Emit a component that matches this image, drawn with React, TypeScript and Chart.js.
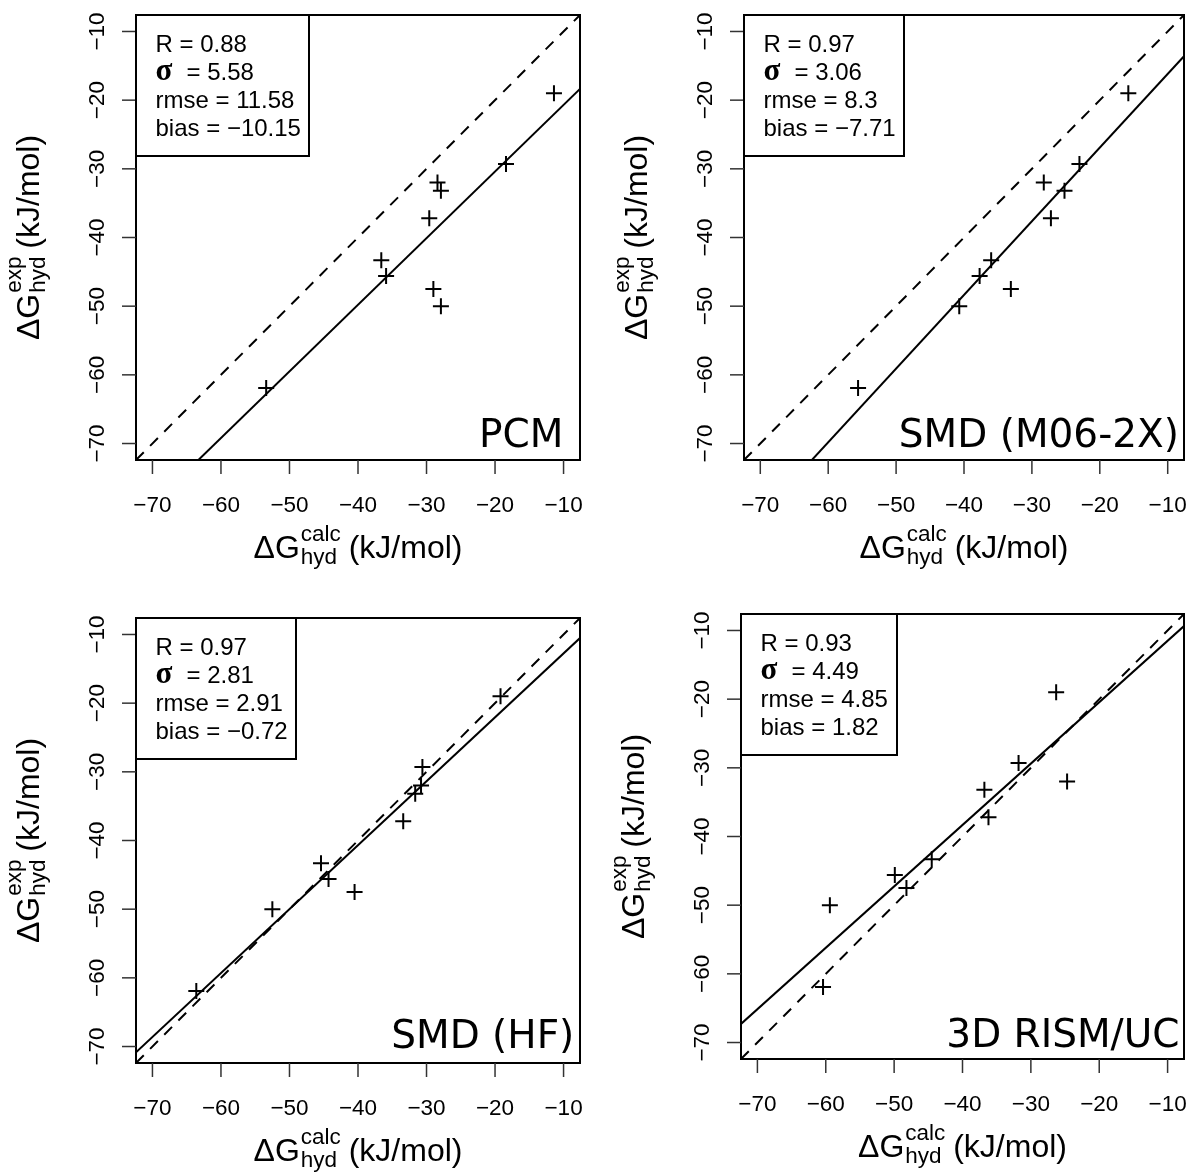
import React, { useEffect, useRef } from "react";
import { Chart, registerables } from "chart.js";

Chart.register(...registerables);

// ---------------- data ----------------
const expValues = [-19.0, -29.3, -32.0, -33.2, -37.2, -43.3, -45.6, -47.5, -50.0, -61.9];
const pcmCalc = [-11.4, -18.4, -28.4, -27.9, -29.6, -36.6, -35.9, -29.0, -27.9, -53.4];
const smdM06Calc = [-15.8, -23.0, -28.25, -25.2, -27.2, -36.0, -37.7, -33.1, -40.7, -55.6];
const smdHFCalc = [-19.2, -30.6, -30.8, -31.65, -33.4, -45.4, -44.3, -40.5, -52.5, -63.6];
const rismCalc = [-26.3, -31.8, -24.7, -36.8, -36.2, -44.5, -49.9, -48.2, -59.4, -60.4];

const methodNames = ["PCM", "SMD (M06-2X)", "SMD (HF)", "3D RISM/UC"];
const rValues = ["0.88", "0.97", "0.97", "0.93"];
const sigmaValues = ["5.58", "3.06", "2.81", "4.49"];
const rmseValues = ["11.58", "8.3", "2.91", "4.85"];
const biasValues = ["\u221210.15", "\u22127.71", "\u22120.72", "1.82"];
const fitIntercepts = [-11.0, -5.44, -3.44, -2.57];
const fitSlopes = [0.97, 1.073, 0.931, 0.894];

const tickValues = [-70, -60, -50, -40, -30, -20, -10];
const tickLabels = ["\u221270", "\u221260", "\u221250", "\u221240", "\u221230", "\u221220", "\u221210"];
const axisMin = -72.4;
const axisMax = -7.6;

// ---------------- layout (styles only) ----------------
type Layout = {
  cx: number; cy: number; cw: number; ch: number;
  left: number; top: number; right: number; bottom: number;
  boxW: number; labelRight: number; labelBase: number;
};

const layouts: Layout[] = [
  { cx: 0, cy: 0, cw: 600, ch: 590, left: 136, top: 15, right: 580, bottom: 460, boxW: 173, labelRight: 16.7, labelBase: 13.3 },
  { cx: 600, cy: 0, cw: 594, ch: 590, left: 144, top: 15, right: 588, bottom: 460, boxW: 160, labelRight: 5, labelBase: 13 },
  { cx: 0, cy: 590, cw: 600, ch: 585, left: 136, top: 28, right: 580, bottom: 473, boxW: 160, labelRight: 5.7, labelBase: 15.5 },
  { cx: 600, cy: 590, cw: 594, ch: 585, left: 141, top: 24, right: 585, bottom: 469, boxW: 156, labelRight: 4.5, labelBase: 12 },
];

const calcSeries = [pcmCalc, smdM06Calc, smdHFCalc, rismCalc];

const SANS = '"Liberation Sans", Arial, Helvetica, sans-serif';

function drawComposite(
  ctx: CanvasRenderingContext2D,
  main: string,
  sup: string,
  sub: string,
  tail: string
) {
  const mainFont = `32px ${SANS}`;
  const smallFont = `22.5px ${SANS}`;
  ctx.font = mainFont;
  const wMain = ctx.measureText(main).width;
  const wSpace = ctx.measureText(" ").width;
  const wTail = ctx.measureText(tail).width;
  ctx.font = smallFont;
  const wSup = ctx.measureText(sup).width;
  const wSub = ctx.measureText(sub).width;
  const wScript = Math.max(wSup, wSub);
  const total = wMain + wScript + wSpace + wTail;
  let x = -total / 2;
  ctx.textAlign = "left";
  ctx.textBaseline = "alphabetic";
  ctx.font = mainFont;
  ctx.fillText(main, x, 0);
  x += wMain;
  ctx.font = smallFont;
  ctx.fillText(sup, x + 1, -17.6);
  ctx.fillText(sub, x + 1, 5.5);
  x += wScript + wSpace;
  ctx.font = mainFont;
  ctx.fillText(tail, x, 0);
}

function makeDecorPlugin(idx: number) {
  return {
    id: "decor" + idx,
    afterDatasetsDraw(chart: any) {
      const ctx: CanvasRenderingContext2D = chart.ctx;
      const xs = chart.scales.x;
      const ys = chart.scales.y;
      const { left, top, right, bottom } = chart.chartArea;
      const L = layouts[idx];
      ctx.save();
      ctx.fillStyle = "#000";
      ctx.strokeStyle = "#000";

      // plot box
      ctx.lineWidth = 2;
      ctx.strokeRect(left, top, right - left, bottom - top);

      // ticks
      ctx.lineWidth = 1.5;
      ctx.strokeStyle = "#333";
      tickValues.forEach((v) => {
        const px = xs.getPixelForValue(v);
        ctx.beginPath();
        ctx.moveTo(px, bottom);
        ctx.lineTo(px, bottom + 14);
        ctx.stroke();
        const py = ys.getPixelForValue(v);
        ctx.beginPath();
        ctx.moveTo(left, py);
        ctx.lineTo(left - 14, py);
        ctx.stroke();
      });

      // tick labels
      ctx.fillStyle = "#000";
      ctx.font = `22.5px ${SANS}`;
      ctx.textBaseline = "alphabetic";
      ctx.textAlign = "center";
      tickValues.forEach((v, i) => {
        const px = xs.getPixelForValue(v);
        ctx.fillText(tickLabels[i], px, bottom + 51.5);
      });
      tickValues.forEach((v, i) => {
        const py = ys.getPixelForValue(v);
        ctx.save();
        ctx.translate(left - 32.5, py);
        ctx.rotate(-Math.PI / 2);
        ctx.fillText(tickLabels[i], 0, 0);
        ctx.restore();
      });

      // axis titles
      ctx.save();
      ctx.translate((left + right) / 2, bottom + 98.3);
      drawComposite(ctx, "\u0394G", "calc", "hyd", "(kJ/mol)");
      ctx.restore();
      ctx.save();
      ctx.translate(left - 97, (top + bottom) / 2);
      ctx.rotate(-Math.PI / 2);
      drawComposite(ctx, "\u0394G", "exp", "hyd", "(kJ/mol)");
      ctx.restore();

      // stats legend box
      ctx.fillStyle = "#fff";
      ctx.fillRect(left, top, L.boxW, 141);
      ctx.lineWidth = 2;
      ctx.strokeStyle = "#000";
      ctx.strokeRect(left, top, L.boxW, 141);
      ctx.fillStyle = "#000";
      ctx.textAlign = "left";
      ctx.font = `24px ${SANS}`;
      const tx = left + 19.5;
      ctx.fillText(`R = ${rValues[idx]}`, tx, top + 36.7);
      ctx.font = `bold 31px "Liberation Serif", "DejaVu Serif", serif`;
      ctx.fillText("\u03c3", tx, top + 65);
      ctx.font = `24px ${SANS}`;
      ctx.fillText(`= ${sigmaValues[idx]}`, tx + 31, top + 64.7);
      ctx.fillText(`rmse = ${rmseValues[idx]}`, tx, top + 92.7);
      ctx.fillText(`bias = ${biasValues[idx]}`, tx, top + 120.7);

      // method label
      ctx.font = `39px "DejaVu Sans", sans-serif`;
      ctx.textAlign = "right";
      ctx.fillText(methodNames[idx], right - L.labelRight, bottom - L.labelBase);

      ctx.restore();
    },
  };
}

function Panel({ idx }: { idx: number }) {
  const ref = useRef<HTMLCanvasElement>(null);
  const L = layouts[idx];
  useEffect(() => {
    const calc = calcSeries[idx];
    const a = fitIntercepts[idx];
    const b = fitSlopes[idx];
    const chart = new Chart(ref.current as HTMLCanvasElement, {
      type: "scatter",
      data: {
        datasets: [
          {
            label: "identity",
            data: [
              { x: axisMin, y: axisMin },
              { x: axisMax, y: axisMax },
            ],
            showLine: true,
            borderColor: "#000",
            borderWidth: 2,
            borderDash: [11, 9],
            pointRadius: 0,
          } as any,
          {
            label: "fit",
            data: [
              { x: axisMin, y: a + b * axisMin },
              { x: axisMax, y: a + b * axisMax },
            ],
            showLine: true,
            borderColor: "#000",
            borderWidth: 2,
            pointRadius: 0,
          } as any,
          {
            label: "points",
            data: calc.map((x, i) => ({ x, y: expValues[i] })),
            pointStyle: "cross",
            pointRadius: 8,
            pointBorderWidth: 2,
            borderColor: "#000",
            backgroundColor: "#000",
            showLine: false,
          } as any,
        ],
      },
      options: {
        animation: false,
        responsive: false,
        devicePixelRatio: 1,
        layout: {
          padding: {
            left: L.left,
            top: L.top,
            right: L.cw - L.right,
            bottom: L.ch - L.bottom,
          },
        },
        scales: {
          x: { type: "linear", min: axisMin, max: axisMax, display: false },
          y: { type: "linear", min: axisMin, max: axisMax, display: false },
        },
        plugins: {
          legend: { display: false },
          tooltip: { enabled: false },
        },
      },
      plugins: [makeDecorPlugin(idx)],
    });
    return () => chart.destroy();
  }, [idx]);
  return (
    <canvas
      ref={ref}
      width={L.cw}
      height={L.ch}
      style={{ position: "absolute", left: L.cx, top: L.cy, width: L.cw, height: L.ch }}
    />
  );
}

export default function App() {
  return (
    <div
      style={{
        position: "absolute",
        left: 0,
        top: 0,
        width: 1194,
        height: 1175,
        background: "#fff",
        overflow: "hidden",
      }}
    >
      {[0, 1, 2, 3].map((i) => (
        <Panel key={i} idx={i} />
      ))}
    </div>
  );
}
